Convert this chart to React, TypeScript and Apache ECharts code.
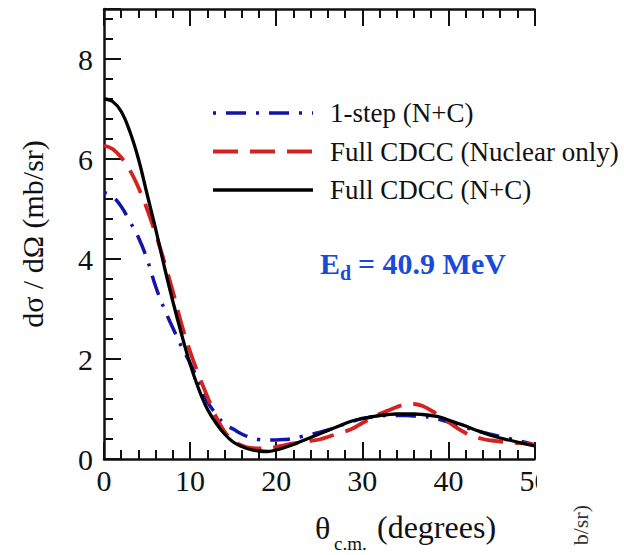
import React, { useEffect, useRef } from "react";
import * as echarts from "echarts";

// Scattering angle (degrees, c.m.)
const theta = [
  0, 1, 2, 3, 4, 5, 6, 7, 8, 9, 10, 11, 12, 13, 14, 15, 16, 17, 18, 19, 20,
  21, 22, 23, 24, 25, 26, 27, 28, 29, 30, 31, 32, 33, 34, 35, 36, 37, 38, 39, 40,
  41, 42, 43, 44, 45, 46, 47, 48, 49, 50,
];

// 1-step (N+C)
const oneStep = [
  5.33, 5.25, 5.05, 4.75, 4.43, 4.0, 3.45, 3.0, 2.62, 2.25, 1.92,
  1.55, 1.15, 0.9, 0.7, 0.6, 0.5, 0.43, 0.39, 0.38, 0.38,
  0.39, 0.41, 0.45, 0.49, 0.53, 0.58, 0.64, 0.7, 0.76, 0.81,
  0.84, 0.86, 0.87, 0.87, 0.87, 0.86, 0.85, 0.83, 0.79, 0.74,
  0.68, 0.63, 0.58, 0.53, 0.49, 0.45, 0.41, 0.37, 0.33, 0.28,
];

// Full CDCC (Nuclear only)
const cdccNuclear = [
  6.27, 6.2, 6.03, 5.78, 5.43, 5.0, 4.5, 3.95, 3.35, 2.7, 2.15,
  1.68, 1.25, 0.85, 0.55, 0.37, 0.27, 0.22, 0.21, 0.22, 0.24,
  0.28, 0.31, 0.33, 0.36, 0.39, 0.44, 0.5, 0.55, 0.62, 0.72,
  0.81, 0.9, 0.97, 1.04, 1.09, 1.1, 1.06, 0.97, 0.86, 0.74,
  0.62, 0.52, 0.45, 0.4, 0.37, 0.35, 0.33, 0.32, 0.31, 0.28,
];

// Full CDCC (N+C)
const cdccFull = [
  7.2, 7.15, 6.95, 6.55, 6.0, 5.3, 4.6, 3.85, 3.15, 2.5, 1.9,
  1.4, 1.0, 0.72, 0.5, 0.34, 0.25, 0.19, 0.16, 0.15, 0.18,
  0.23, 0.29, 0.36, 0.43, 0.5, 0.57, 0.64, 0.71, 0.77, 0.81,
  0.84, 0.87, 0.89, 0.9, 0.9, 0.9, 0.89, 0.87, 0.84, 0.78,
  0.72, 0.66, 0.59, 0.53, 0.47, 0.42, 0.38, 0.34, 0.3, 0.26,
];

const seriesNames = ["1-step (N+C)", "Full CDCC (Nuclear only)", "Full CDCC (N+C)"];
const seriesColors = ["#1414a8", "#d42222", "#000000"];
const seriesDash: (number[] | null)[] = [[3, 10, 20, 10], [25, 12], null];
const seriesWidths = [3.5, 3.8, 3.3];

const SERIF = "Liberation Serif";
const INK = "#111";

export default function App() {
  const ref = useRef<HTMLDivElement>(null);

  useEffect(() => {
    if (!ref.current) return;
    const chart = echarts.init(ref.current, undefined, { renderer: "svg" });
    const toPts = (arr: number[]) => theta.map((t, i) => [t, arr[i]]);
    const mkLine = () => ({ show: true, onZero: false, lineStyle: { color: INK, width: 2.5 } });
    const mkTick = () => ({ show: true, inside: true, length: 17, lineStyle: { color: INK, width: 2 } });
    const mkMinor = () => ({ show: true, splitNumber: 5, length: 9, lineStyle: { color: INK, width: 2 } });

    const legendRows = [113, 151.5, 190];
    const legendGraphics: any[] = [];
    seriesNames.forEach((name, i) => {
      const style: any = { stroke: seriesColors[i], lineWidth: seriesWidths[i] };
      if (seriesDash[i]) style.lineDash = seriesDash[i];
      legendGraphics.push({
        type: "line",
        shape: { x1: 213, y1: legendRows[i], x2: 313, y2: legendRows[i] },
        style,
      });
      legendGraphics.push({
        type: "text",
        x: 330,
        y: legendRows[i],
        style: {
          text: name,
          fontFamily: SERIF,
          fontSize: 27,
          fill: "#111",
          verticalAlign: "middle",
          align: "left",
        },
      });
    });

    chart.setOption({
      animation: false,
      backgroundColor: "#fff",
      grid: { left: 104, top: 9, width: 430.5, height: 450 },
      xAxis: [
        {
          type: "value",
          min: 0,
          max: 50,
          interval: 10,
          position: "bottom",
          axisLine: mkLine(),
          axisTick: mkTick(),
          minorTick: mkMinor(),
          splitLine: { show: false },
          axisLabel: { fontFamily: SERIF, fontSize: 30, color: "#111", margin: 6 },
        },
        {
          type: "value",
          min: 0,
          max: 50,
          interval: 10,
          position: "top",
          axisLine: mkLine(),
          axisTick: mkTick(),
          minorTick: mkMinor(),
          splitLine: { show: false },
          axisLabel: { show: false },
        },
      ],
      yAxis: [
        {
          type: "value",
          min: 0,
          max: 9,
          interval: 2,
          position: "left",
          axisLine: mkLine(),
          axisTick: mkTick(),
          minorTick: mkMinor(),
          splitLine: { show: false },
          axisLabel: {
            fontFamily: SERIF,
            fontSize: 30,
            color: "#111",
            margin: 11,
            formatter: (v: number) => (v % 2 === 0 ? String(v) : ""),
          },
          name: "dσ / dΩ (mb/sr)",
          nameLocation: "middle",
          nameGap: 57,
          nameTextStyle: { fontFamily: SERIF, fontSize: 30, color: "#111" },
        },
      ],
      series: [
        {
          name: seriesNames[0],
          type: "line",
          data: toPts(oneStep),
          symbol: "none",
          smooth: 0.4,
          lineStyle: { color: seriesColors[0], width: seriesWidths[0], type: seriesDash[0] },
          itemStyle: { color: seriesColors[0] },
        },
        {
          name: seriesNames[1],
          type: "line",
          data: toPts(cdccNuclear),
          symbol: "none",
          smooth: 0.4,
          lineStyle: { color: seriesColors[1], width: seriesWidths[1], type: seriesDash[1] },
          itemStyle: { color: seriesColors[1] },
        },
        {
          name: seriesNames[2],
          type: "line",
          data: toPts(cdccFull),
          symbol: "none",
          smooth: 0.4,
          lineStyle: { color: seriesColors[2], width: seriesWidths[2], type: "solid" },
          itemStyle: { color: seriesColors[2] },
        },
      ],
      graphic: [
        ...legendGraphics,
        {
          type: "text",
          x: 320,
          y: 263,
          style: {
            text: "E",
            fontFamily: SERIF,
            fontSize: 30,
            fontWeight: "bold",
            fill: "#1a4ad8",
            verticalAlign: "middle",
            align: "left",
          },
        },
        {
          type: "text",
          x: 340,
          y: 273,
          style: {
            text: "d",
            fontFamily: SERIF,
            fontSize: 20,
            fontWeight: "bold",
            fill: "#1a4ad8",
            verticalAlign: "middle",
            align: "left",
          },
        },
        {
          type: "text",
          x: 358,
          y: 263,
          style: {
            text: "= 40.9 MeV",
            fontFamily: SERIF,
            fontSize: 30,
            fontWeight: "bold",
            fill: "#1a4ad8",
            verticalAlign: "middle",
            align: "left",
          },
        },
        {
          type: "text",
          x: 315,
          y: 528,
          style: {
            text: "θ",
            fontFamily: SERIF,
            fontSize: 32,
            fill: "#111",
            verticalAlign: "middle",
            align: "left",
          },
        },
        {
          type: "text",
          x: 334,
          y: 543,
          style: {
            text: "c.m.",
            fontFamily: SERIF,
            fontSize: 19,
            fill: "#111",
            verticalAlign: "middle",
            align: "left",
          },
        },
        {
          type: "text",
          x: 377,
          y: 527,
          style: {
            text: "(degrees)",
            fontFamily: SERIF,
            fontSize: 32,
            fill: "#111",
            verticalAlign: "middle",
            align: "left",
          },
        },
        {
          type: "rect",
          z: 100,
          shape: { x: 537, y: 461, width: 87, height: 40 },
          style: { fill: "#fff" },
        },
        {
          type: "text",
          z: 101,
          x: 580,
          y: 505,
          rotation: Math.PI / 2,
          style: {
            text: "b/sr)",
            fontFamily: SERIF,
            fontSize: 22,
            fill: "#333",
            verticalAlign: "middle",
            align: "right",
          },
        },
      ],
    });

    return () => chart.dispose();
  }, []);

  return (
    <div
      ref={ref}
      style={{ position: "fixed", left: 0, top: 0, width: 624, height: 555, background: "#fff" }}
    />
  );
}
